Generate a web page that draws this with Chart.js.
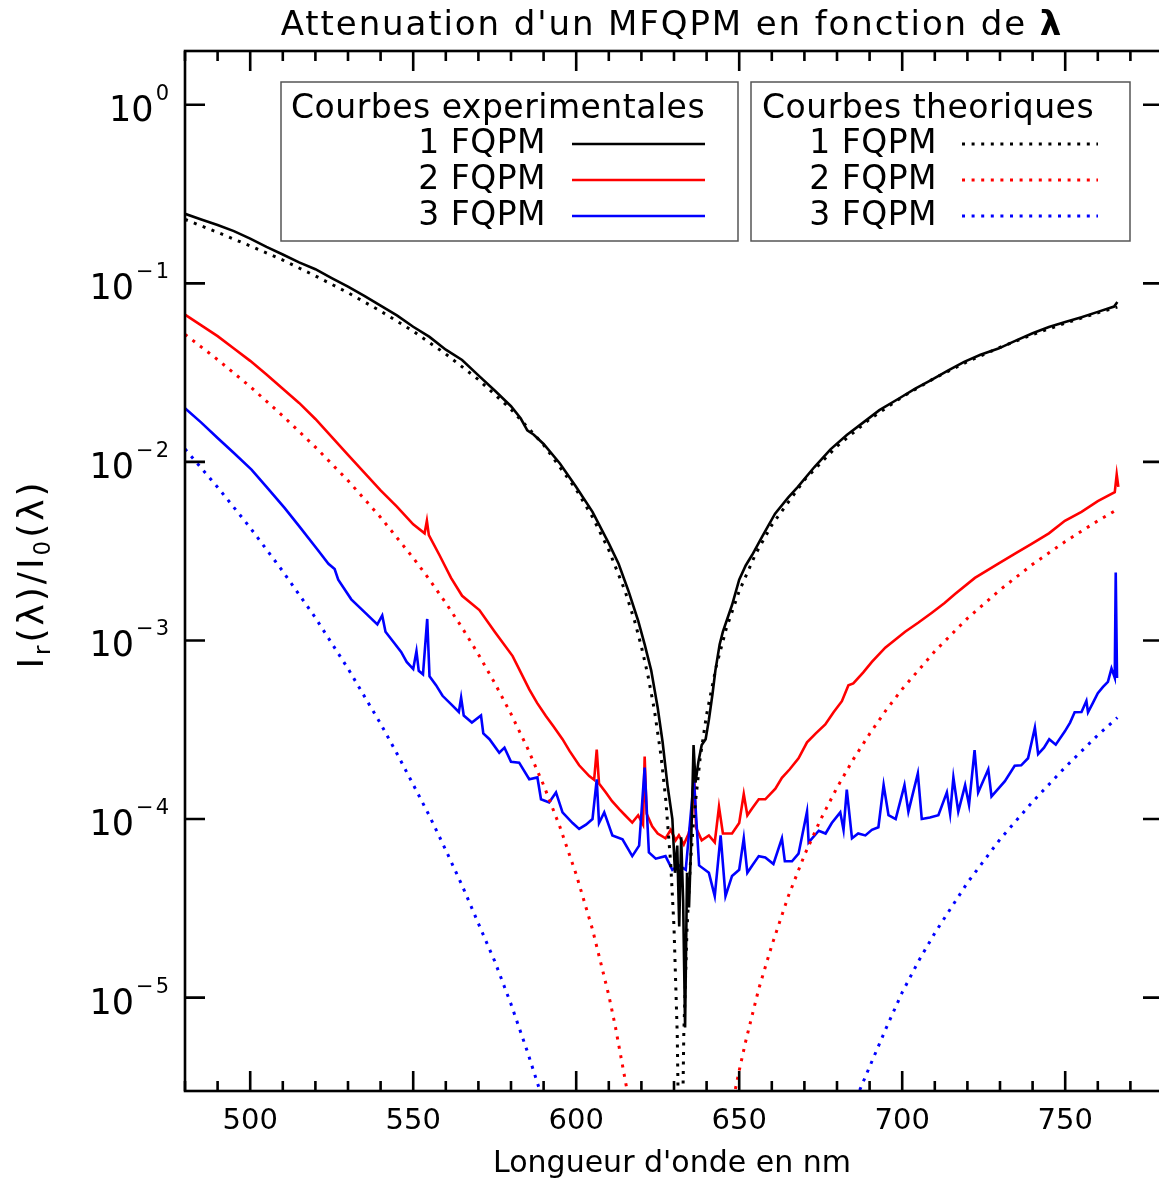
<!DOCTYPE html>
<html>
<head>
<meta charset="utf-8">
<script src="https://cdn.jsdelivr.net/npm/chart.js@4.4.1/dist/chart.umd.min.js"></script>
<style>
  html, body { margin: 0; padding: 0; background: #fff; overflow: hidden; }
</style>
</head>
<body>
<canvas id="chart" width="1180" height="1180"></canvas>
<script>
// axis ranges and tick labels
const xMin = 480, xMax = 780;
const yMin = 3e-6, yMax = 2;
const xMajor = [500, 550, 600, 650, 700, 750];
const yDecades = [0, -1, -2, -3, -4, -5];
const yExpLabels = ['0', '\u22121', '\u22122', '\u22123', '\u22124', '\u22125'];

// experimental curves [lambda nm, Ir/I0]
const exp1 = [
  [480,0.245],[485,0.228],[490,0.212],[495,0.196],[500,0.178],[505,0.160],[510,0.145],[515,0.131],
  [520,0.120],[525,0.107],[530,0.0959],[535,0.0851],[540,0.075],[545,0.0661],[550,0.0571],[555,0.0501],
  [560,0.0425],[565,0.0372],[570,0.0305],[575,0.0251],[580,0.0205],[583,0.0175],[585,0.0150],[587,0.0142],
  [590,0.0126],[595,0.0098],[600,0.00724],[605,0.00525],[610,0.0035],[613,0.00269],[616,0.0019],[619,0.00129],
  [621,0.00095],[623,0.00068],[625,0.00042],[626.5,0.00027],[628,0.000155],[629.5,1.0e-4],[630.3,5.0e-5],
  [631,7.1e-5],[631.6,2.5e-5],[632.2,7.9e-5],[632.8,3.5e-5],[633.4,6.8e-6],[634,5.0e-5],[634.6,3.2e-5],
  [635.3,7.9e-5],[636,2.6e-4],[636.6,1.6e-4],[637.5,2.1e-4],[638.5,2.6e-4],[639.7,2.8e-4],[640.7,3.6e-4],
  [641.8,5.0e-4],[642.7,6.8e-4],[644,9.5e-4],[645,1.12e-3],[647.8,1.58e-3],[650,2.19e-3],[652,2.63e-3],
  [654,3.02e-3],[657,3.8e-3],[661,5.13e-3],[665,6.31e-3],[668,7.24e-3],[673,9.33e-3],[678,0.01175],
  [683,0.01413],[688,0.0166],[693,0.0195],[699,0.02265],[704,0.0257],[709,0.0288],[714,0.0324],[719,0.0363],
  [724,0.0398],[729.5,0.0431],[735,0.0479],[740,0.0525],[745,0.0569],[750,0.0608],[755,0.0646],[760,0.0692],
  [765,0.0741],[766,0.0785]
];
const exp2 = [
  [480,0.0668],[485,0.0582],[490,0.0506],[495,0.0432],[500,0.0368],[505,0.0309],[510,0.0257],[515,0.0214],
  [520,0.0174],[525,0.0138],[530,0.01096],[535,0.00871],[540,0.00692],[545,0.00562],[550,0.00447],
  [553.5,0.00398],[554.2,0.00468],[554.8,0.00389],[558,0.00302],[561.6,0.00224],[565,0.00178],[570.3,0.00148],
  [575,0.00112],[580.5,8.18e-4],[585.6,5.32e-4],[588,4.47e-4],[590.7,3.78e-4],[593,3.31e-4],[595.8,2.80e-4],
  [598,2.40e-4],[600.9,2.00e-4],[604,1.74e-4],[605.5,1.66e-4],[606.3,2.45e-4],[607,1.58e-4],[609.1,1.41e-4],
  [611,1.26e-4],[613.2,1.135e-4],[615,1.05e-4],[617.2,9.55e-5],[619,1.05e-4],[620.5,9.3e-5],[621,2.24e-4],
  [621.6,1.07e-4],[623.3,9.1e-5],[625,8.3e-5],[627.4,7.8e-5],[629,8.7e-5],[630.5,7.6e-5],[631.5,8.1e-5],
  [633,7.2e-5],[634.5,8.3e-5],[635.5,1.0e-4],[636.1,1.9e-4],[636.8,8.9e-5],[638.5,7.6e-5],[640.7,8.1e-5],
  [642.5,7.4e-5],[643.8,1.17e-4],[645,8.3e-5],[647.8,8.3e-5],[650,9.5e-5],[651.4,1.38e-4],[652.5,1.05e-4],
  [654,1.15e-4],[656,1.29e-4],[658,1.29e-4],[661.1,1.48e-4],[663.1,1.70e-4],[665.5,1.9e-4],[668.2,2.19e-4],
  [670.8,2.69e-4],[673.5,3.02e-4],[676.4,3.39e-4],[679,3.98e-4],[681.5,4.57e-4],[683.5,5.62e-4],[685,5.75e-4],
  [688,6.61e-4],[690.7,7.59e-4],[694.8,9.12e-4],[700.9,1.12e-3],[705,1.26e-3],[709.1,1.43e-3],[713,1.62e-3],
  [716.2,1.82e-3],[722.3,2.24e-3],[729.5,2.69e-3],[735,3.09e-3],[739.7,3.47e-3],[745,3.98e-3],[749.9,4.68e-3],
  [755,5.25e-3],[760,6.03e-3],[765.2,6.76e-3],[765.8,8.51e-3],[766.3,7.24e-3]
];
const exp3 = [
  [480,0.0200],[485,0.0166],[490,0.01361],[495,0.01122],[500.4,0.00906],[505,0.00724],[510.6,0.00551],
  [515,0.00437],[520.8,0.0032],[524,0.00269],[525.9,0.00251],[527,0.00219],[531,0.0017],[535,0.001445],
  [539,0.00123],[540.5,0.00138],[541.5,0.00112],[544,9.77e-4],[546.3,8.63e-4],[548,7.59e-4],[550,6.92e-4],
  [551,8.71e-4],[551.7,6.76e-4],[553,6.46e-4],[554.3,1.32e-3],[555,6.31e-4],[557,5.62e-4],[559,4.9e-4],
  [561.6,4.4e-4],[564,3.98e-4],[564.7,4.79e-4],[565.5,3.8e-4],[568,3.47e-4],[570.8,3.8e-4],[571.5,3.02e-4],
  [573.4,2.8e-4],[576.4,2.35e-4],[578,2.51e-4],[580,2.09e-4],[582.5,2.07e-4],[585.6,1.67e-4],[588.1,1.71e-4],
  [589.2,1.29e-4],[591.7,1.24e-4],[593.8,1.41e-4],[595.8,1.09e-4],[598.9,9.5e-5],[600.9,8.8e-5],[603,9.3e-5],
  [605,1.0e-4],[606.3,1.67e-4],[607,9.5e-5],[608.6,1.09e-4],[611.1,8.1e-5],[614.2,7.7e-5],[617.2,6.2e-5],
  [619.3,7.1e-5],[621,1.94e-4],[622.3,6.5e-5],[624.4,6.0e-5],[627.4,6.2e-5],[629.5,5.2e-5],[631.5,5.5e-5],
  [633.6,5.2e-5],[636.1,1.67e-4],[637.7,5.5e-5],[640.7,5.0e-5],[642.5,3.7e-5],[644.3,8.1e-5],[645.8,3.7e-5],
  [647.8,4.8e-5],[650,5.2e-5],[651.4,7.8e-5],[652.5,5.0e-5],[654,5.5e-5],[656,6.2e-5],[658,6.1e-5],
  [660.5,5.6e-5],[663.1,7.8e-5],[664,5.8e-5],[666.2,5.8e-5],[668.2,6.4e-5],[670.8,1.1e-4],[671.3,7.4e-5],
  [674.4,8.6e-5],[676.5,8.3e-5],[678.4,9.5e-5],[681,1.09e-4],[682,8.7e-5],[683,1.46e-4],[684.6,7.8e-5],
  [686.5,8.3e-5],[688.7,8.1e-5],[690.7,8.7e-5],[692.7,9.0e-5],[694.3,1.55e-4],[695.8,1.05e-4],[698,1.0e-4],
  [700.7,1.55e-4],[701.9,1.1e-4],[704.8,1.8e-4],[706,1.0e-4],[708.5,1.02e-4],[711.1,1.05e-4],[713.7,1.41e-4],
  [714.7,1.07e-4],[715.7,1.71e-4],[717.2,1.1e-4],[719.3,1.55e-4],[720.5,1.2e-4],[722.2,2.43e-4],[723.3,1.41e-4],
  [726.4,1.9e-4],[727.4,1.34e-4],[729.5,1.48e-4],[731.5,1.63e-4],[734.5,1.99e-4],[736.5,2.0e-4],[738.6,2.19e-4],
  [740.7,3.25e-4],[741.7,2.31e-4],[743.5,2.51e-4],[745.1,2.8e-4],[747.1,2.61e-4],[749.9,3.1e-4],[751.5,3.47e-4],
  [752.9,3.96e-4],[755,3.98e-4],[756.5,4.59e-4],[757,3.96e-4],[758.5,4.47e-4],[760,5.07e-4],[761.6,5.5e-4],
  [763.1,5.87e-4],[764.2,6.98e-4],[765.2,6.18e-4],[765.5,2.4e-3],[765.9,6.17e-4]
];

// theoretical curves [lambda nm, Ir/I0]
const theo1 = [
  [480,0.228],[490,0.193],[500,0.162],[510,0.135],[520,0.110],[530,0.0886],[540,0.0699],[550,0.0539],
  [560,0.0402],[570,0.0289],[580,0.0197],[590,0.01246],[600,0.0070],[605,0.00491],[610,0.00321],[615,0.00189],
  [618,0.00127],[620,9.24e-4],[622,6.38e-4],[624,4.06e-4],[626,2.27e-4],[627.5,1.27e-4],[629,5.6e-5],
  [630,2.48e-5],[631,6.2e-6],[631.6,9.9e-7],[632,1e-10],[632.4,9.8e-7],[633,6.2e-6],[634,2.45e-5],[635,5.5e-5],
  [636,9.8e-5],[638,2.18e-4],[640,3.85e-4],[643,7.22e-4],[646,1.16e-3],[650,1.89e-3],[655,3.04e-3],
  [660,4.43e-3],[670,7.92e-3],[680,0.01225],[690,0.01733],[700,0.0231],[710,0.0295],[720,0.0364],
  [730,0.0438],[740,0.0517],[750,0.0598],[760,0.0684],[766,0.0736]
];
const theo2 = [
  [480,0.0518],[490,0.0374],[500,0.0264],[510,0.0181],[520,0.0121],[530,0.00786],[540,0.00489],[550,0.0029],
  [555,0.00219],[560,0.00162],[565,0.00118],[570,8.36e-4],[575,5.78e-4],[580,3.88e-4],[585,2.51e-4],
  [590,1.55e-4],[595,9.04e-5],[600,4.9e-5],[605,2.41e-5],[610,1.03e-5],[612,6.9e-6],[616,2.77e-6],
  [620,8.5e-7],[625,9.6e-8],[632,1e-12],[640,1.48e-7],[646,1.6e-6],[648,2.6e-6],[650,3.9e-6],
  [652,5.7e-6],[656,1.12e-5],[660,1.96e-5],[665,3.67e-5],[670,6.27e-5],[675,9.96e-5],[680,1.5e-4],
  [685,2.16e-4],[690,3.0e-4],[695,4.06e-4],[700,5.34e-4],[710,8.7e-4],[720,1.33e-3],[730,1.92e-3],
  [740,2.67e-3],[750,3.58e-3],[760,4.68e-3],[766,5.42e-3]
];
const theo3 = [
  [480,0.0118],[490,0.00722],[500,0.00428],[510,0.00244],[520,0.00134],[530,6.96e-4],[540,3.42e-4],
  [545,2.33e-4],[550,1.56e-4],[555,1.04e-4],[560,6.7e-5],[565,4.25e-5],[570,2.6e-5],[575,1.6e-5],
  [580,9.2e-6],[585,5.0e-6],[590,2.6e-6],[595,1.25e-6],[600,5.5e-7],[610,6e-8],[632,1e-15],
  [660,8.7e-8],[670,4.2e-7],[675,8.3e-7],[680,1.45e-6],[685,2.5e-6],[690,4.1e-6],[695,6.7e-6],[700,1.07e-5],
  [705,1.6e-5],[710,2.3e-5],[720,4.4e-5],[730,7.7e-5],[740,1.25e-4],[750,1.95e-4],[760,2.95e-4],[766,3.7e-4]
];

const FONT = '"DejaVu Sans", sans-serif';

function toXY(arr) {
  return arr.map(([x, y]) => ({ x, y }));
}

function solid(data, color, order) {
  return { data: toXY(data), borderColor: color, borderWidth: 2.6, pointRadius: 0, tension: 0, order: order, clip: 0 };
}

function dotted(data, color, order) {
  return { data: toXY(data), borderColor: color, borderWidth: 3, borderDash: [3, 6.5], borderCapStyle: 'butt',
           pointRadius: 0, tension: 0, order: order, clip: 0 };
}

// frame, ticks, labels and the two legend boxes, drawn the IDL way
const idlDecor = {
  id: 'idlDecor',
  afterDraw(chart) {
    const { ctx, chartArea: a, scales: { x, y } } = chart;
    ctx.save();
    ctx.strokeStyle = '#000';
    ctx.fillStyle = '#000';
    ctx.lineWidth = 2.6;
    ctx.setLineDash([]);
    ctx.strokeRect(a.left, a.top, a.right - a.left, a.bottom - a.top);

    ctx.beginPath();
    for (let v = xMin; v <= xMax; v += 10) {
      const px = x.getPixelForValue(v);
      const len = xMajor.includes(v) ? 20 : 10;
      ctx.moveTo(px, a.bottom); ctx.lineTo(px, a.bottom - len);
      ctx.moveTo(px, a.top); ctx.lineTo(px, a.top + len);
    }
    yDecades.forEach(k => {
      const py = y.getPixelForValue(Math.pow(10, k));
      ctx.moveTo(a.left, py); ctx.lineTo(a.left + 20, py);
      ctx.moveTo(a.right, py); ctx.lineTo(a.right - 20, py);
    });
    ctx.stroke();

    // y tick labels 10^k
    ctx.textBaseline = 'alphabetic';
    yDecades.forEach((k, i) => {
      const py = y.getPixelForValue(Math.pow(10, k));
      ctx.font = '21px ' + FONT;
      ctx.letterSpacing = '2px';
      const ew = ctx.measureText(yExpLabels[i]).width;
      ctx.textAlign = 'left';
      ctx.fillText(yExpLabels[i], 171 - ew, py - 5);
      ctx.font = '35px ' + FONT;
      ctx.letterSpacing = '0px';
      ctx.textAlign = 'right';
      ctx.fillText('10', 171 - ew - 2, py + 16);
    });

    // title
    const t1 = "Attenuation d'un MFQPM en fonction de ";
    ctx.letterSpacing = '1.9px';
    ctx.font = '34px ' + FONT;
    const w1 = ctx.measureText(t1).width;
    ctx.font = 'bold 34px ' + FONT;
    const w2 = ctx.measureText('\u03bb').width;
    const cx = (a.left + a.right) / 2 - 2;
    ctx.textAlign = 'left';
    ctx.font = '34px ' + FONT;
    ctx.fillText(t1, cx - (w1 + w2) / 2, 35);
    ctx.font = 'bold 34px ' + FONT;
    ctx.fillText('\u03bb', cx - (w1 + w2) / 2 + w1, 35);

    // x title
    ctx.letterSpacing = '0px';
    ctx.font = '30px ' + FONT;
    ctx.textAlign = 'center';
    ctx.fillText("Longueur d'onde en nm", 672, 1172);

    // y title, rotated
    ctx.save();
    ctx.translate(43, 574);
    ctx.rotate(-Math.PI / 2);
    ctx.letterSpacing = '3px';
    const parts = [['I', 36, 0], ['r', 23, 7], ['(\u03bb)/I', 36, 0], ['0', 23, 7], ['(\u03bb)', 36, 0]];
    let total = 0;
    parts.forEach(p => { ctx.font = p[1] + 'px ' + FONT; total += ctx.measureText(p[0]).width; });
    let xx = -total / 2;
    ctx.textAlign = 'left';
    parts.forEach(p => {
      ctx.font = p[1] + 'px ' + FONT;
      ctx.fillText(p[0], xx, p[2]);
      xx += ctx.measureText(p[0]).width;
    });
    ctx.restore();

    // legend boxes
    ctx.strokeStyle = '#555';
    ctx.lineWidth = 1.5;
    ctx.strokeRect(281, 82, 457, 159);
    ctx.strokeRect(751, 82, 379, 159);

    ctx.font = '33px ' + FONT;
    ctx.letterSpacing = '0.5px';
    ctx.textAlign = 'left';
    ctx.fillText('Courbes experimentales', 291, 118);
    ctx.fillText('Courbes theoriques', 762, 118);

    const rowNames = ['1 FQPM', '2 FQPM', '3 FQPM'];
    const rowColors = ['#000000', '#ff0000', '#0000ff'];
    ctx.textAlign = 'right';
    rowNames.forEach((name, i) => {
      const base = 153 + i * 36;
      ctx.fillStyle = '#000';
      ctx.fillText(name, 546, base);
      ctx.fillText(name, 937, base);
      ctx.strokeStyle = rowColors[i];
      ctx.lineWidth = 2.6;
      ctx.setLineDash([]);
      ctx.beginPath(); ctx.moveTo(572, base - 9); ctx.lineTo(705, base - 9); ctx.stroke();
      ctx.lineWidth = 3;
      ctx.lineCap = 'butt';
      ctx.setLineDash([3, 6.6]);
      ctx.beginPath(); ctx.moveTo(962, base - 9); ctx.lineTo(1098, base - 9); ctx.stroke();
    });
    ctx.restore();
  }
};

new Chart(document.getElementById('chart'), {
  type: 'line',
  data: {
    datasets: [
      dotted(theo1, '#000000', 1),
      dotted(theo2, '#ff0000', 2),
      dotted(theo3, '#0000ff', 3),
      solid(exp1, '#000000', 4),
      solid(exp3, '#0000ff', 5),
      solid(exp2, '#ff0000', 6)
    ]
  },
  options: {
    responsive: false,
    animation: false,
    layout: { padding: { left: 185, top: 51, right: 17, bottom: 0 } },
    plugins: { legend: { display: false }, tooltip: { enabled: false }, title: { display: false } },
    scales: {
      x: {
        type: 'linear',
        min: xMin,
        max: xMax,
        grid: { display: false, drawTicks: false },
        border: { display: false },
        afterFit: s => { s.height = 89; },
        ticks: {
          stepSize: 10,
          autoSkip: false,
          maxRotation: 0,
          padding: 13,
          color: '#000',
          font: { family: FONT, size: 29 },
          callback: v => xMajor.includes(v) ? String(v) : ''
        }
      },
      y: {
        type: 'logarithmic',
        display: false,
        min: yMin,
        max: yMax
      }
    }
  },
  plugins: [idlDecor]
});
</script>
</body>
</html>
